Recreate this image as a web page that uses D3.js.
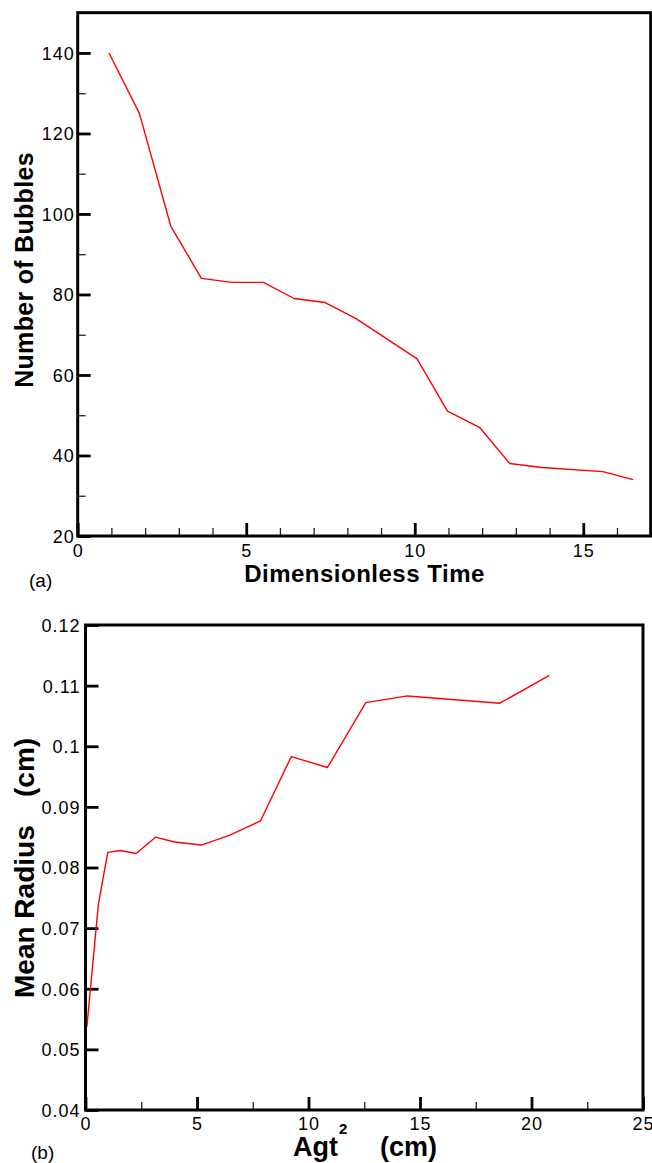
<!DOCTYPE html>
<html>
<head>
<meta charset="utf-8">
<script src="https://cdn.jsdelivr.net/npm/d3@7"></script>
<style>
  html, body { margin: 0; padding: 0; background: #fff; }
  svg { display: block; }
  .tick text { font-family: "Liberation Sans", Arial, sans-serif; font-size: 18px; letter-spacing: 1px; fill: #000; }
  .lab { font-family: "Liberation Sans", Arial, sans-serif; font-weight: bold; fill: #000; }
  .tag { font-family: "Liberation Sans", Arial, sans-serif; font-size: 19px; fill: #000; }
</style>
</head>
<body>
<script>
// Panel (a): bubble count against dimensionless time
const timeA   = [0.93, 1.83, 2.76, 3.67, 4.57, 5.51, 6.42, 7.34, 8.26, 10.07, 10.97, 11.92, 12.82, 13.77, 15.58, 16.48];
const bubbles = [140, 125, 97, 84, 83, 83, 79, 78, 74, 64, 51, 47, 38, 37, 36, 34];
const xTicksA = [0, 5, 10, 15];
const xTickLabelsA = ["0", "5", "10", "15"];
const yTicksA = [20, 40, 60, 80, 100, 120, 140];
const yTickLabelsA = ["20", "40", "60", "80", "100", "120", "140"];

// Panel (b): mean bubble radius against Agt^2
const agt2   = [0.06, 0.58, 1.0, 1.56, 2.27, 3.14, 3.99, 5.19, 6.45, 7.85, 9.23, 10.85, 12.57, 14.44, 18.58, 20.8];
const radius = [0.0537, 0.0740, 0.0825, 0.0828, 0.0823, 0.0850, 0.0842, 0.0837, 0.0853, 0.0877, 0.0983, 0.0965, 0.1072, 0.1083, 0.1071, 0.1117];
const xTicksB = [0, 5, 10, 15, 20, 25];
const xTickLabelsB = ["0", "5", "10", "15", "20", "25"];
const yTicksB = [0.04, 0.05, 0.06, 0.07, 0.08, 0.09, 0.10, 0.11, 0.12];
const yTickLabelsB = ["0.04", "0.05", "0.06", "0.07", "0.08", "0.09", "0.1", "0.11", "0.12"];

const W = 652, H = 1163;
const svg = d3.select("body").append("svg").attr("width", W).attr("height", H);

function panel(opt) {
  const x = d3.scaleLinear().domain(opt.xDomain).range([opt.left, opt.right]);
  const y = d3.scaleLinear().domain(opt.yDomain).range([opt.bottom, opt.top]);
  const g = svg.append("g");

  // minor ticks (inward)
  g.append("g").attr("transform", `translate(0,${opt.bottom})`)
    .call(d3.axisBottom(x).tickValues(opt.xMinor).tickSize(-8).tickFormat(""))
    .call(s => s.select(".domain").remove())
    .call(s => s.selectAll("line").attr("stroke", "#222").attr("stroke-width", 1.3));
  if (opt.yMinor.length) {
    g.append("g").attr("transform", `translate(${opt.left},0)`)
      .call(d3.axisLeft(y).tickValues(opt.yMinor).tickSize(-8).tickFormat(""))
      .call(s => s.select(".domain").remove())
      .call(s => s.selectAll("line").attr("stroke", "#222").attr("stroke-width", 1.3));
  }

  // major ticks with labels
  g.append("g").attr("transform", `translate(0,${opt.bottom})`)
    .call(d3.axisBottom(x).tickValues(opt.xTicks).tickSize(-13)
      .tickFormat((d, i) => opt.xLabels[i]))
    .call(s => s.select(".domain").remove())
    .call(s => s.selectAll("line").attr("stroke", "#000").attr("stroke-width", 2.8))
    .call(s => s.selectAll("text").attr("y", opt.xLabelBase).attr("dy", 0));
  g.append("g").attr("transform", `translate(${opt.left},0)`)
    .call(d3.axisLeft(y).tickValues(opt.yTicks).tickSize(-13)
      .tickFormat((d, i) => opt.yLabels[i]))
    .call(s => s.select(".domain").remove())
    .call(s => s.selectAll("line").attr("stroke", "#000").attr("stroke-width", 2.8))
    .call(s => s.selectAll("text").attr("x", -opt.yLabelGap).attr("dy", "0.36em"));

  // data line
  const line = d3.line().x(d => x(d[0])).y(d => y(d[1]));
  g.append("path")
    .datum(d3.zip(opt.xs, opt.ys))
    .attr("d", line)
    .attr("fill", "none")
    .attr("stroke", "#f00")
    .attr("stroke-width", 1.4)
    .attr("stroke-linejoin", "round");

  // plot frame
  g.append("rect")
    .attr("x", opt.left).attr("y", opt.top)
    .attr("width", opt.right - opt.left).attr("height", opt.bottom - opt.top)
    .attr("fill", "none").attr("stroke", "#000").attr("stroke-width", 3);
  return g;
}

panel({
  xDomain: [0, 17], yDomain: [20, 150],
  left: 77.7, right: 650.7, top: 12.7, bottom: 536,
  xTicks: xTicksA, xLabels: xTickLabelsA, xMinor: d3.range(1, 17).filter(v => v % 5 !== 0),
  yTicks: yTicksA, yLabels: yTickLabelsA, yMinor: [30, 50, 70, 90, 110, 130],
  xLabelBase: 21, yLabelGap: 3,
  xs: timeA, ys: bubbles
});

panel({
  xDomain: [0, 25], yDomain: [0.04, 0.12],
  left: 85.5, right: 643, top: 625, bottom: 1110,
  xTicks: xTicksB, xLabels: xTickLabelsB, xMinor: [2.5, 7.5, 12.5, 17.5, 22.5],
  yTicks: yTicksB, yLabels: yTickLabelsB, yMinor: [],
  xLabelBase: 20, yLabelGap: 5,
  xs: agt2, ys: radius
});

// Axis titles, panel (a)
svg.append("text").attr("class", "lab")
  .attr("x", 364.5).attr("y", 582).attr("text-anchor", "middle")
  .style("font-size", "24px").style("letter-spacing", "0.5px")
  .text("Dimensionless Time");
svg.append("text").attr("class", "lab")
  .attr("transform", "translate(33,270) rotate(-90)").attr("text-anchor", "middle")
  .style("font-size", "25px").style("letter-spacing", "0.3px")
  .text("Number of Bubbles");
svg.append("text").attr("class", "tag").attr("x", 29).attr("y", 587).text("(a)");

// Axis titles, panel (b)
svg.append("text").attr("class", "lab")
  .attr("transform", "translate(33.5,998) rotate(-90)").attr("text-anchor", "start")
  .style("font-size", "28px")
  .text("Mean Radius");
svg.append("text").attr("class", "lab")
  .attr("transform", "translate(33.5,797) rotate(-90)").attr("text-anchor", "start")
  .style("font-size", "28px")
  .text("(cm)");
const xt = svg.append("text").attr("class", "lab").attr("x", 293).attr("y", 1156)
  .style("font-size", "27px");
xt.append("tspan").text("Agt");
xt.append("tspan").attr("dy", -22).attr("dx", 1).style("font-size", "15px").text("2");
svg.append("text").attr("class", "lab").attr("x", 380).attr("y", 1156)
  .style("font-size", "27px").text("(cm)");
svg.append("text").attr("class", "tag").attr("x", 31).attr("y", 1159).text("(b)");
</script>
</body>
</html>
